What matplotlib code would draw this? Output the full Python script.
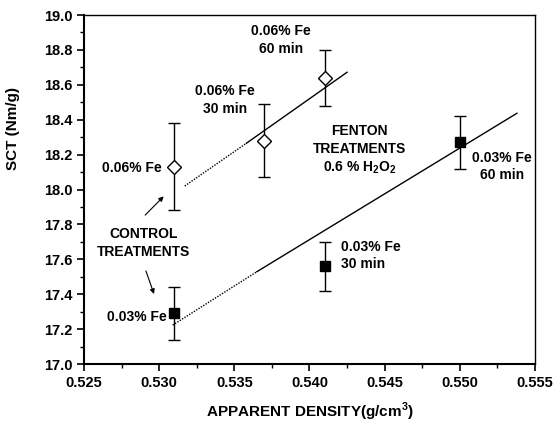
import numpy as np
import matplotlib
matplotlib.use('Agg')
import matplotlib.pyplot as plt
from matplotlib.ticker import MultipleLocator, FormatStrFormatter

plt.rcParams['font.family'] = ['Liberation Sans', 'DejaVu Sans']
plt.rcParams['font.weight'] = 'bold'
plt.rcParams['axes.labelweight'] = 'bold'
plt.rcParams['mathtext.fontset'] = 'custom'
plt.rcParams['mathtext.rm'] = 'Liberation Sans:bold'
plt.rcParams['mathtext.bf'] = 'Liberation Sans:bold'

# 0.06 % Fe series (open diamonds)
fe06_x = [0.531, 0.537, 0.541]
fe06_y = [18.13, 18.28, 18.64]
fe06_err = [0.25, 0.21, 0.16]

# 0.03 % Fe series (filled squares)
fe03_x = [0.531, 0.541, 0.550]
fe03_y = [17.29, 17.56, 18.27]
fe03_err = [0.15, 0.14, 0.15]

# trend lines: dotted part then solid part
fe06_dot_x = [0.5317, 0.5358]
fe06_dot_y = [18.02, 18.265]
fe06_fit_x = [0.5358, 0.5425]
fe06_fit_y = [18.265, 18.672]
fe03_dot_x = [0.5309, 0.5365]
fe03_dot_y = [17.223, 17.529]
fe03_fit_x = [0.5365, 0.5538]
fe03_fit_y = [17.529, 18.437]

fig = plt.figure(figsize=(5.54, 4.24), dpi=100)
ax = fig.add_axes([0.1516, 0.1415, 0.8141, 0.8231])

ax.plot(fe06_dot_x, fe06_dot_y, color='black', lw=1, ls=(0, (1, 1)))
ax.plot(fe06_fit_x, fe06_fit_y, color='black', lw=1)
ax.plot(fe03_dot_x, fe03_dot_y, color='black', lw=1, ls=(0, (1, 1)))
ax.plot(fe03_fit_x, fe03_fit_y, color='black', lw=1)

ax.errorbar(fe06_x, fe06_y, yerr=fe06_err, fmt='D', mfc='white', mec='black',
            ms=7.2, mew=1, ecolor='black', elinewidth=1, capsize=4, capthick=1, zorder=3)
ax.errorbar(fe03_x, fe03_y, yerr=fe03_err, fmt='s', mfc='black', mec='black',
            ms=7.5, ecolor='black', elinewidth=1, capsize=4, capthick=1, zorder=3)

fs = 10
ax.text(0.5302, 18.123, '0.06% Fe', ha='right', va='center', fontsize=fs)
ax.text(0.5344, 18.513, '0.06% Fe\n30 min', ha='center', va='center', fontsize=fs, linespacing=1.3)
ax.text(0.5381, 18.857, '0.06% Fe\n60 min', ha='center', va='center', fontsize=fs, linespacing=1.3)
ax.text(0.54335, 18.226, 'FENTON\nTREATMENTS\n0.6 % H$_\\mathbf{2}$O$_\\mathbf{2}$',
        ha='center', va='center', fontsize=fs, linespacing=1.3)
ax.text(0.5528, 18.131, '0.03% Fe\n60 min', ha='center', va='center', fontsize=fs, linespacing=1.3)
ax.text(0.5421, 17.622, '0.03% Fe\n30 min', ha='left', va='center', fontsize=fs, linespacing=1.3)
ax.text(0.5305, 17.271, '0.03% Fe', ha='right', va='center', fontsize=fs)
ax.text(0.52899, 17.693, 'CONTROL\nTREATMENTS', ha='center', va='center', fontsize=fs, linespacing=1.3)

arrow = dict(arrowstyle='-|>', color='black', lw=0.8, mutation_scale=7)
ax.annotate('', xy=(0.53043, 17.972), xytext=(0.52894, 17.842), arrowprops=arrow)
ax.annotate('', xy=(0.52972, 17.386), xytext=(0.52906, 17.548), arrowprops=arrow)

ax.set_xlim(0.525, 0.555)
ax.set_ylim(17.0, 19.0)
ax.xaxis.set_major_locator(MultipleLocator(0.005))
ax.xaxis.set_minor_locator(MultipleLocator(0.0025))
ax.yaxis.set_major_locator(MultipleLocator(0.2))
ax.yaxis.set_minor_locator(MultipleLocator(0.1))
ax.xaxis.set_major_formatter(FormatStrFormatter('%.3f'))
ax.yaxis.set_major_formatter(FormatStrFormatter('%.1f'))
ax.tick_params(which='major', direction='out', length=5, width=1.2, labelsize=10.5)
ax.tick_params(which='minor', direction='out', length=3, width=1)
for lab in ax.get_xticklabels() + ax.get_yticklabels():
    lab.set_fontweight('bold')
for s in ['left', 'bottom']:
    ax.spines[s].set_linewidth(1.5)
for s in ['top', 'right']:
    ax.spines[s].set_linewidth(1)

ax.set_xlabel('APPARENT DENSITY(g/cm$^\\mathbf{3}$)', fontsize=11, fontweight='bold', labelpad=8)
ax.set_ylabel('SCT (Nm/g)', fontsize=11, fontweight='bold')
ax.yaxis.set_label_coords(-0.142, 0.676)

fig.savefig('out.png', dpi=100)
